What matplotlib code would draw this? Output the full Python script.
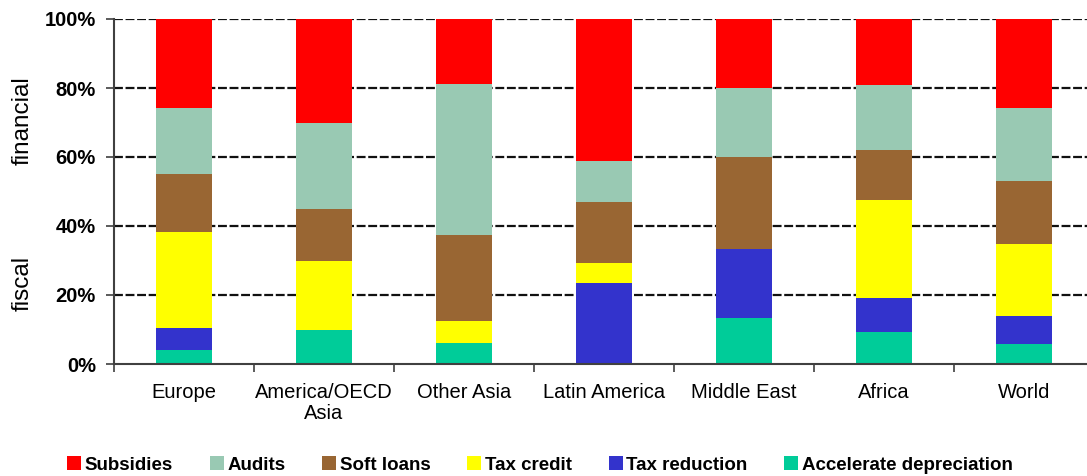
import matplotlib
matplotlib.use("Agg")
import matplotlib.pyplot as plt
import numpy as np
from matplotlib.ticker import FixedLocator, PercentFormatter

plt.rcParams['font.family'] = ['Liberation Sans', 'DejaVu Sans']

regions = ["Europe", "America/OECD\nAsia", "Other Asia", "Latin America",
           "Middle East", "Africa", "World"]

# Shares (%) of each instrument, stacked bottom to top
accelerate_depreciation = [4.1, 9.8, 6.2, 0.0, 13.3, 9.4, 5.8]
tax_reduction = [6.4, 0.0, 0.0, 23.5, 20.1, 9.8, 8.2]
tax_credit = [27.8, 20.1, 6.3, 5.9, 0.0, 28.4, 20.9]
soft_loans = [16.9, 15.1, 24.9, 17.7, 26.6, 14.3, 18.0]
audits = [19.0, 25.0, 43.9, 11.8, 20.1, 19.0, 21.4]
subsidies = [25.8, 30.0, 18.7, 41.1, 19.9, 19.1, 25.7]

stack = [
    ("Accelerate depreciation", accelerate_depreciation, "#00CC99"),
    ("Tax reduction", tax_reduction, "#3333CC"),
    ("Tax credit", tax_credit, "#FFFF00"),
    ("Soft loans", soft_loans, "#996633"),
    ("Audits", audits, "#99C9B3"),
    ("Subsidies", subsidies, "#FF0000"),
]

fig = plt.figure(figsize=(10.87, 4.76), dpi=100)
ax = fig.add_axes([114 / 1087, 1 - 364 / 476, (1094 - 114) / 1087, (364 - 19) / 476])

x = np.arange(len(regions))
bottom = np.zeros(len(regions))
handles = {}
for name, vals, color in stack:
    vals = np.array(vals)
    b = ax.bar(x, vals, bottom=bottom, width=0.4, color=color, label=name,
               zorder=3, linewidth=0)
    handles[name] = b
    bottom += vals

ax.set_xlim(-0.5, len(regions) - 0.5)
ax.set_ylim(0, 100)

# dashed gridlines
for yv in [20, 40, 60, 80, 100]:
    ax.axhline(yv, color="#111111", linestyle=(0, (4, 1.2)), linewidth=1.6, zorder=2)

ax.yaxis.set_major_locator(FixedLocator([0, 20, 40, 60, 80, 100]))
ax.yaxis.set_major_formatter(PercentFormatter(decimals=0))
ax.set_xticks(x)
ax.set_xticklabels(regions, fontsize=14.5, linespacing=1.1)
ax.tick_params(axis='x', which='major', length=0, pad=14)
ax.set_xticks(np.arange(-0.5, len(regions), 1.0), minor=True)
ax.tick_params(axis='x', which='minor', length=6, width=1.2, color="#404040")
ax.tick_params(axis='y', length=6, width=1.2, color="#404040", pad=7)
for lab in ax.get_yticklabels():
    lab.set_fontsize(14.5)
    lab.set_fontweight('bold')

for side in ("top", "right"):
    ax.spines[side].set_visible(False)
for side in ("left", "bottom"):
    ax.spines[side].set_color("#404040")
    ax.spines[side].set_linewidth(1.5)
ax.spines["bottom"].set_zorder(4)

fig.text(23 / 1087, 1 - 121 / 476, "financial", rotation=90, fontsize=17.5,
         ha="center", va="center")
fig.text(23 / 1087, 1 - 283 / 476, "fiscal", rotation=90, fontsize=17.5,
         ha="center", va="center")

order = ["Subsidies", "Audits", "Soft loans", "Tax credit", "Tax reduction",
         "Accelerate depreciation"]
leg = fig.legend([handles[n] for n in order], order, loc="center",
                 bbox_to_anchor=(540 / 1087, 1 - 465 / 476), ncol=6, frameon=False,
                 handlelength=0.75, handleheight=0.75, handletextpad=0.2,
                 columnspacing=1.95, prop={'size': 13.5, 'weight': 'bold'})

fig.savefig("out.png", dpi=100)
